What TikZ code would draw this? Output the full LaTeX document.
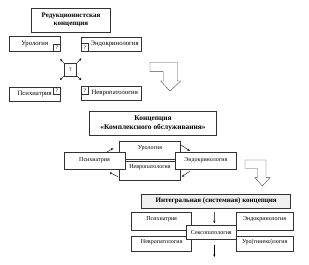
\documentclass[tikz,border=0pt]{standalone}
\usepackage{fontspec}
\setmainfont{Liberation Serif}
\usetikzlibrary{positioning,calc,arrows.meta}
\tikzset{>={Stealth[length=2.4pt,width=2.2pt]}}

\begin{document}
\begin{tikzpicture}[
    x=1pt, y=-1pt,
    field/.style={draw=black!80, fill=white, inner sep=0.5pt, font=\fontsize{6}{7}\selectfont},
    bigfield/.style={field, font=\fontsize{6.7}{7.5}\selectfont},
    heading/.style={draw=black!80, fill=white, align=center, inner sep=0.5pt, font=\bfseries\fontsize{7}{8.6}\selectfont},
    cornerbox/.style={draw=black!80, fill=white, minimum width=6.5pt, minimum height=7.5pt, inner sep=0pt, font=\fontsize{5.5}{5.5}\selectfont},
    turn/.style={draw=black!70, fill=white, line width=0.4pt}
]
\useasboundingbox (0,0) rectangle (309,265);

% reductionist concept
\node[heading, minimum width=79pt, minimum height=24pt] (reduct) at (71,20) {Редукционистская\\концепция};
\node[bigfield, minimum width=51pt, minimum height=15pt] (uroA) at (34.7,44) {Урология};
\node[bigfield, minimum width=60pt, minimum height=14pt] (endoA) at (111.7,44) {\hspace*{6pt}Эндокринология};
\node[bigfield, minimum width=51pt, minimum height=14pt] (psyA) at (34.7,94) {Психиатрия};
\node[bigfield, minimum width=60pt, minimum height=14pt] (neuA) at (111.7,93.5) {\hspace*{6pt}Невропатология};
\node[cornerbox, anchor=south east] (uroAc) at (uroA.south east) {?};
\node[cornerbox, anchor=south west] (endoAc) at (endoA.south west) {?};
\node[cornerbox, anchor=north east] (psyAc) at (psyA.north east) {?};
\node[cornerbox, anchor=north west] (neuAc) at (neuA.north west) {?};
\node[draw=black!80, minimum size=12.5pt, inner sep=0pt, font=\fontsize{5.5}{5.5}\selectfont] (q) at (70.3,69.5) {?};

\draw[->, shorten >=10pt] (q.north west) -- (uroAc.south west);
\draw[->, shorten >=10pt] (q.north east) -- (endoAc.south east);
\draw[->, shorten >=9.5pt] (q.south west) -- (psyAc.north west);
\draw[->, shorten >=9.5pt] (q.south east) -- (neuAc.north east);

\draw[turn] (150,62.3) -- (177.3,62.3) -- (177.3,81) -- (180.7,81) -- (170,91)
    -- (160.7,81) -- (163.3,81) -- (163.3,71.7) -- (150,71.7) -- cycle;

% complex service concept
\node[heading, minimum width=127.4pt, minimum height=23.3pt, font=\bfseries\fontsize{7.4}{9}\selectfont] (complex) at (153,123.3) {Концепция\\«Комплексного обслуживания»};
\node[field, minimum width=61.4pt, minimum height=17.3pt, text depth=6pt] (uroB) at (150,150.3) {Урология};
\node[field, minimum width=61.4pt, minimum height=18.3pt, text depth=9pt] (neuB) at (150,170.85) {Невропатология};
\node[field, minimum width=61pt, minimum height=16.7pt] (psyB) at (94.5,160.65) {Психиатрия};
\node[field, minimum width=61.7pt, minimum height=16.7pt] (endoB) at (205.85,160.65) {Эндокринология};

\draw[->] ([xshift=-18.3pt]psyB.north east) -- ($(uroB.west)+(-6,-2)$);
\draw[->] ($(uroB.east)+(0,-5.3)$) -- ($(endoB.north west)+(15,-1.3)$);
\draw[->] ($(endoB.south west)+(15,2)$) -- ($(neuB.east)+(1,5.85)$);
\draw[->] ($(neuB.west)+(-1,5.85)$) -- ($(psyB.south east)+(-15.7,3.3)$);

\draw[turn] (245,160) -- (266,160) -- (266,177.7) -- (270,177.7) -- (262.3,186)
    -- (255,177.7) -- (257.3,177.7) -- (257.3,168.3) -- (245,168.3) -- cycle;

% integral (system) concept
\node[heading, fill=gray!12, line width=0.7pt, minimum width=149pt, minimum height=14.3pt] (integral) at (216.2,201.15) {Интегральная (системная) концепция};
\node[field, minimum width=60pt, minimum height=17.3pt, text depth=6pt] (psyC) at (161.7,221.35) {Психиатрия};
\node[field, minimum width=57.3pt, minimum height=17.3pt, text depth=6pt] (endoC) at (264.65,221.35) {Эндокринология};
\node[field, minimum width=60pt, minimum height=15.7pt, text depth=5pt] (neuC) at (161.7,243.85) {Невропатология};
\node[field, minimum width=57.3pt, minimum height=15.7pt, text depth=5pt] (urogC) at (264.65,243.85) {Уро(гинеко)логия};
\node[field, minimum width=50.7pt, minimum height=14.3pt] (sexo) at (211.35,232.15) {Сексопатология};
\coordinate (exit) at ($(sexo.south)+(3,17.4)$);

\draw[->] ([xshift=-1.9pt,yshift=-3.4pt]integral.south) -- ([xshift=3pt,yshift=1.7pt]sexo.north);
\draw[->] ([xshift=3pt,yshift=-5.7pt]sexo.south) -- (exit);
\end{tikzpicture}
\end{document}
